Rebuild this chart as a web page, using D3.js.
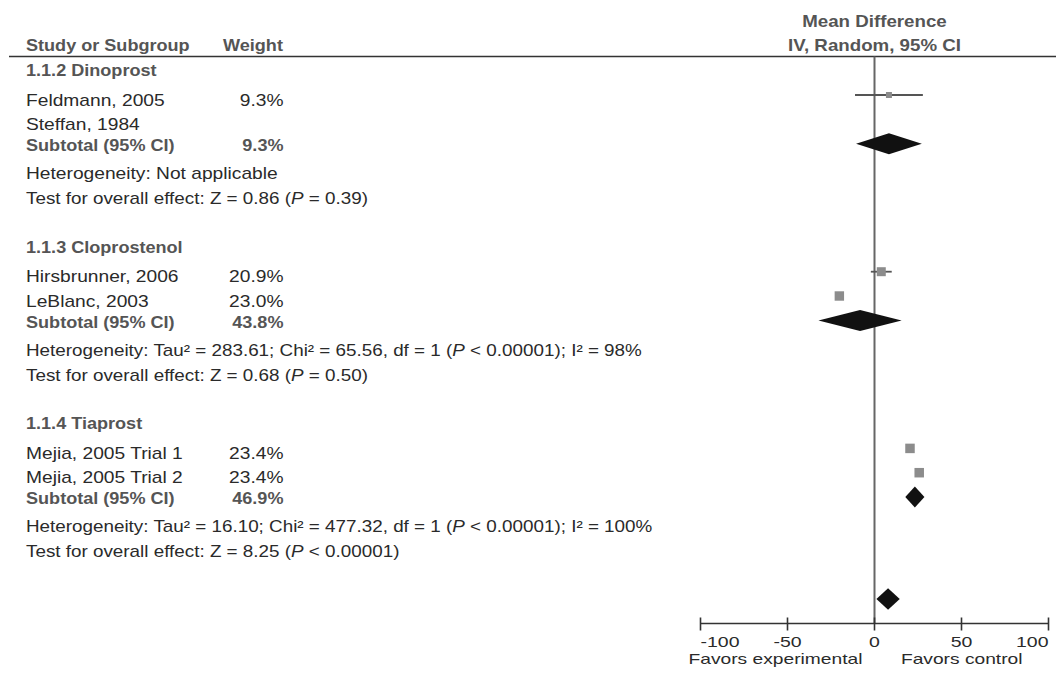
<!DOCTYPE html>
<html>
<head>
<meta charset="utf-8">
<script src="https://cdn.jsdelivr.net/npm/d3@7"></script>
<style>
  html, body { margin: 0; padding: 0; background: #fff; }
  svg { display: block; }
  text { font-family: "Liberation Sans", Arial, sans-serif; font-size: 16px; }
</style>
</head>
<body>
<svg id="chart" width="1056" height="673"></svg>
<script>
// Forest plot: mean difference, IV, random effects, 95% CI

const groups = ["1.1.2 Dinoprost", "1.1.3 Cloprostenol", "1.1.4 Tiaprost"];

// study rows (two per subgroup)
const studyNames = ["Feldmann, 2005", "Steffan, 1984", "Hirsbrunner, 2006", "LeBlanc, 2003", "Mejia, 2005 Trial 1", "Mejia, 2005 Trial 2"];
const studyGroup = [0, 0, 1, 1, 2, 2];
const studyWeight = [9.3, null, 20.9, 23.0, 23.4, 23.4];
const studyMD = [8.3, null, 3.9, -20.2, 20.4, 25.7];
const studyLow = [-11.2, null, -2.1, -21.9, 19.6, 24.9];
const studyHigh = [27.8, null, 9.9, -18.5, 21.2, 26.5];

// subgroup totals
const subtotalWeight = [9.3, 43.8, 46.9];
const subtotalMD = [8.3, -8.3, 23.2];
const subtotalLow = [-10.6, -32.2, 17.7];
const subtotalHigh = [27.2, 15.6, 28.7];
const heterogeneity = [
  "Heterogeneity: Not applicable",
  "Heterogeneity: Tau² = 283.61; Chi² = 65.56, df = 1 (*P* < 0.00001); I² = 98%",
  "Heterogeneity: Tau² = 16.10; Chi² = 477.32, df = 1 (*P* < 0.00001); I² = 100%"
];
const effectTest = [
  "Test for overall effect: Z = 0.86 (*P* = 0.39)",
  "Test for overall effect: Z = 0.68 (*P* = 0.50)",
  "Test for overall effect: Z = 8.25 (*P* < 0.00001)"
];

// pooled estimate
const totalMD = [7.8];
const totalLow = [1.1];
const totalHigh = [14.5];

const axisTicks = [-100, -50, 0, 50, 100];
const axisSideLabels = ["Favors experimental", "Favors control"];

// ---------------------------------------------------------------
const svg = d3.select("#chart");
const SX = 1.2, SXB = 1.13, SXL = 1.178;   // horizontal stretch: regular / bold / long lines
const textColor = "#2a2a2a", boldColor = "#555";

const x = d3.scaleLinear().domain([-100, 100]).range([700.5, 1048.5]);
const size = d3.scaleSqrt().domain([0, 23.4]).range([0, 9.5]);

const groupTop = g => 76 + g * 176.7;            // baseline of subgroup title
const rowOffset = { title: 0, s0: 29.7, s1: 54, sub: 75, het: 103, test: 128 };
const axisY = 623.5;
const headerLineY = 56.5;

// text helper: supports *italic* segments
function addText(str, xPos, yPos, opts = {}) {
  const bold = !!opts.bold;
  const t = svg.append("text")
    .attr("transform", `translate(${xPos},${yPos}) scale(${opts.sx || (bold ? SXB : SX)},1)`)
    .attr("text-anchor", opts.anchor || "start")
    .attr("fill", opts.color || (bold ? boldColor : textColor))
    .attr("font-weight", bold ? "bold" : "normal");
  if (opts.size) t.style("font-size", opts.size + "px");
  str.split("*").forEach((seg, i) => {
    if (!seg) return;
    t.append("tspan").attr("font-style", i % 2 ? "italic" : "normal").text(seg);
  });
  return t;
}

// header
addText("Study or Subgroup", 26, 51, { bold: true });
addText("Weight", 223, 51, { bold: true });
addText("Mean Difference", x(0), 26.5, { bold: true, anchor: "middle", sx: 1.17 });
addText("IV, Random, 95% CI", x(0), 51, { bold: true, anchor: "middle", sx: 1.17 });

svg.append("line")
  .attr("x1", 9).attr("x2", 1056).attr("y1", headerLineY).attr("y2", headerLineY)
  .attr("stroke", "#333").attr("stroke-width", 1.6);

// line of no effect
svg.append("line")
  .attr("x1", x(0)).attr("x2", x(0)).attr("y1", headerLineY).attr("y2", axisY)
  .attr("stroke", "#666").attr("stroke-width", 2);

const fmtPct = d => d.toFixed(1) + "%";
const weightX = 283.5;

function diamond(md, lo, hi, cy, half) {
  return `M${x(lo)},${cy} L${x(md)},${cy - half} L${x(hi)},${cy} L${x(md)},${cy + half} Z`;
}

groups.forEach((name, g) => {
  const top = groupTop(g);
  addText(name, 26, top, { bold: true });

  const members = studyNames.map((s, i) => i).filter(i => studyGroup[i] === g);
  members.forEach((i, k) => {
    const base = top + (k === 0 ? rowOffset.s0 : rowOffset.s1);
    addText(studyNames[i], 26, base);
    if (studyWeight[i] != null) addText(fmtPct(studyWeight[i]), weightX, base, { anchor: "end" });
    if (studyMD[i] != null) {
      const cy = base - 10.7;
      svg.append("line")
        .attr("x1", x(studyLow[i])).attr("x2", x(studyHigh[i]))
        .attr("y1", cy).attr("y2", cy)
        .attr("stroke", "#555").attr("stroke-width", 1.8);
      const sq = size(studyWeight[i]);
      svg.append("rect")
        .attr("x", x(studyMD[i]) - sq / 2).attr("y", cy - sq / 2)
        .attr("width", sq).attr("height", sq)
        .attr("fill", "#8c8c8c");
    }
  });

  const subBase = top + rowOffset.sub;
  addText("Subtotal (95% CI)", 26, subBase, { bold: true });
  addText(fmtPct(subtotalWeight[g]), weightX, subBase, { bold: true, anchor: "end" });
  svg.append("path")
    .attr("d", diamond(subtotalMD[g], subtotalLow[g], subtotalHigh[g], subBase - 7.3, 10.5))
    .attr("fill", "#111");

  addText(heterogeneity[g], 26, top + rowOffset.het, { sx: g === 0 ? SX : SXL });
  addText(effectTest[g], 26, top + rowOffset.test, { sx: SXL });
});

// overall pooled diamond
svg.append("path")
  .attr("d", diamond(totalMD[0], totalLow[0], totalHigh[0], 599, 10.8))
  .attr("fill", "#111");

// x axis
const axisG = svg.append("g").attr("transform", `translate(0,${axisY})`);
axisG.append("line")
  .attr("x1", x(-100)).attr("x2", x(100))
  .attr("stroke", "#333").attr("stroke-width", 1.6);
axisG.selectAll("line.tick").data(axisTicks).enter().append("line")
  .attr("class", "tick")
  .attr("x1", d => x(d)).attr("x2", d => x(d))
  .attr("y1", -6).attr("y2", 7)
  .attr("stroke", "#333").attr("stroke-width", 1.6);
axisTicks.forEach((d, i) => {
  const anchor = i === 0 ? "start" : (i === axisTicks.length - 1 ? "end" : "middle");
  addText(String(d), x(d), axisY + 23, { anchor, size: 15, sx: 1.3 });
});
addText(axisSideLabels[0], 775.5, 663.5, { anchor: "middle", size: 15, sx: 1.28 });
addText(axisSideLabels[1], 961.7, 663.5, { anchor: "middle", size: 15, sx: 1.28 });
</script>
</body>
</html>
